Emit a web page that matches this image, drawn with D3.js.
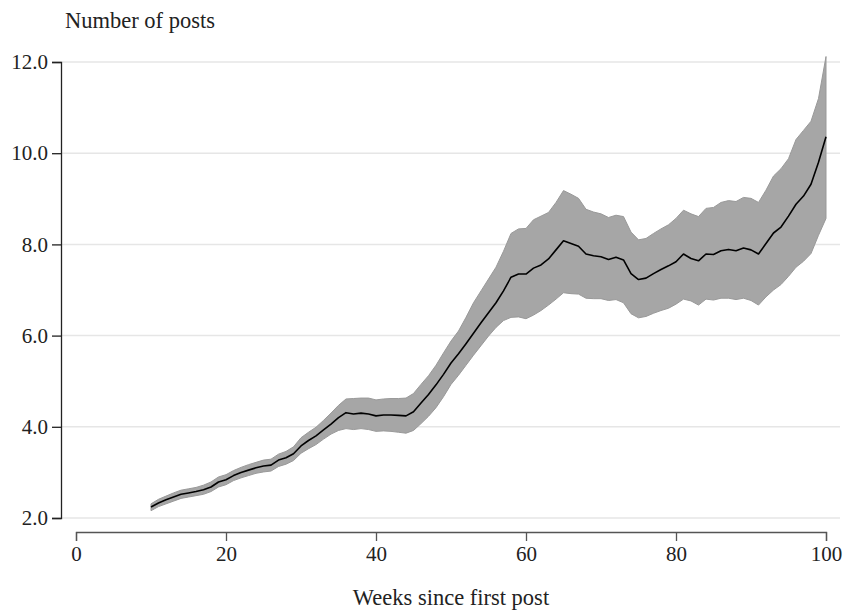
<!DOCTYPE html>
<html lang="en">
<head>
    <meta charset="UTF-8">
    <title>Number of posts by week</title>
    <script src="https://d3js.org/d3.v7.min.js"></script>
    <style>
        body { margin: 0; background: #fff; }
        svg text { font-family: "Liberation Serif", "DejaVu Serif", serif; fill: #222; }
    </style>
</head>
<body>
    <div id="chart"></div>
    <script>
        // Weeks since first post (10..100)
        const weeks = d3.range(10, 101);
        // Mean number of posts
        const meanPosts = [
            2.24, 2.33, 2.40, 2.46, 2.52, 2.55, 2.58, 2.62, 2.68, 2.79,
            2.84, 2.93, 3.00, 3.05, 3.10, 3.14, 3.16, 3.27, 3.32, 3.41,
            3.58, 3.70, 3.80, 3.93, 4.06, 4.20, 4.31, 4.28, 4.30, 4.28,
            4.24, 4.26, 4.26, 4.25, 4.24, 4.33, 4.52, 4.71, 4.92, 5.15,
            5.40, 5.60, 5.82, 6.05, 6.28, 6.50, 6.72, 6.98, 7.28, 7.35,
            7.35, 7.48, 7.55, 7.68, 7.88, 8.08, 8.02, 7.96, 7.79, 7.75,
            7.73, 7.67, 7.72, 7.66, 7.36, 7.23, 7.26, 7.36, 7.45, 7.53,
            7.62, 7.79, 7.69, 7.64, 7.79, 7.78, 7.86, 7.89, 7.86, 7.92,
            7.88, 7.79, 8.02, 8.25, 8.38, 8.62, 8.88, 9.06, 9.32, 9.80,
            10.36
        ];
        // Lower bound of the band
        const lowerPosts = [
            2.16, 2.25, 2.31, 2.37, 2.43, 2.46, 2.49, 2.52, 2.58, 2.68,
            2.73, 2.82, 2.88, 2.93, 2.98, 3.01, 3.03, 3.13, 3.18, 3.26,
            3.42, 3.52, 3.61, 3.73, 3.84, 3.92, 3.96, 3.94, 3.96, 3.94,
            3.90, 3.91, 3.90, 3.88, 3.86, 3.92, 4.07, 4.23, 4.42, 4.66,
            4.93, 5.13, 5.35, 5.57, 5.78, 5.99, 6.18, 6.33, 6.40, 6.41,
            6.37, 6.45, 6.55, 6.67, 6.80, 6.94, 6.92, 6.91, 6.82, 6.81,
            6.81, 6.77, 6.79, 6.72, 6.48, 6.39, 6.42, 6.49, 6.55, 6.60,
            6.69, 6.80, 6.76, 6.67, 6.80, 6.78, 6.82, 6.82, 6.79, 6.82,
            6.77, 6.67, 6.85, 7.00, 7.12, 7.30, 7.50, 7.63, 7.80, 8.20,
            8.57
        ];
        // Upper bound of the band
        const upperPosts = [
            2.31, 2.41, 2.48, 2.55, 2.61, 2.64, 2.67, 2.72, 2.79, 2.90,
            2.95, 3.04, 3.11, 3.17, 3.22, 3.27, 3.29, 3.40, 3.46, 3.56,
            3.76, 3.88, 3.99, 4.14, 4.30, 4.47, 4.61, 4.62, 4.63, 4.63,
            4.59, 4.61, 4.62, 4.62, 4.63, 4.73, 4.93, 5.12, 5.35, 5.62,
            5.88, 6.10, 6.40, 6.72, 6.98, 7.24, 7.50, 7.85, 8.24, 8.34,
            8.35, 8.54, 8.62, 8.70, 8.92, 9.18, 9.10, 9.01, 8.77, 8.71,
            8.67, 8.59, 8.64, 8.61, 8.27, 8.10, 8.13, 8.24, 8.34, 8.43,
            8.57, 8.75, 8.67, 8.61, 8.79, 8.81, 8.92, 8.96, 8.94, 9.03,
            9.01, 8.92, 9.19, 9.50, 9.66, 9.88, 10.30, 10.50, 10.70, 11.20,
            12.12
        ];
        const xTicks = [0, 20, 40, 60, 80, 100];
        const yTicks = [2, 4, 6, 8, 10, 12];

        const data = weeks.map((w, i) => ({
            week: w, mean: meanPosts[i], lo: lowerPosts[i], hi: upperPosts[i]
        }));

        const width = 845, height = 613;
        const svg = d3.select("#chart").append("svg")
            .attr("width", width)
            .attr("height", height);

        const x = d3.scaleLinear().domain([0, 100]).range([76, 826]);
        const y = d3.scaleLinear().domain([2, 12]).range([518, 62]);

        // Gridlines
        svg.append("g")
            .selectAll("line")
            .data(yTicks)
            .join("line")
            .attr("x1", 61)
            .attr("x2", 840)
            .attr("y1", d => y(d))
            .attr("y2", d => y(d))
            .attr("stroke", "#e6e6e6")
            .attr("stroke-width", 1.5);

        // Band
        const area = d3.area()
            .x(d => x(d.week))
            .y0(d => y(d.lo))
            .y1(d => y(d.hi));
        svg.append("path")
            .datum(data)
            .attr("fill", "#a6a6a6")
            .attr("stroke", "#999")
            .attr("stroke-width", 1)
            .attr("d", area);

        // Mean line
        const line = d3.line()
            .x(d => x(d.week))
            .y(d => y(d.mean));
        svg.append("path")
            .datum(data)
            .attr("fill", "none")
            .attr("stroke", "#000")
            .attr("stroke-width", 1.6)
            .attr("stroke-linejoin", "round")
            .attr("d", line);

        // Y axis
        const yAxis = svg.append("g")
            .attr("transform", "translate(61,0)")
            .call(d3.axisLeft(y).tickValues(yTicks).tickFormat(d3.format(".1f")).tickSize(9).tickPadding(4));
        yAxis.select(".domain").attr("stroke", "#222").attr("stroke-width", 1.3);
        yAxis.selectAll(".tick line").attr("stroke", "#222").attr("stroke-width", 1.3);
        yAxis.selectAll("text").attr("font-size", "21px").attr("fill", "#222")
            .attr("font-family", "Liberation Serif, serif");

        // X axis
        const xAxis = svg.append("g")
            .attr("transform", "translate(0,532)")
            .call(d3.axisBottom(x).tickValues(xTicks).tickSize(9).tickPadding(5));
        xAxis.select(".domain").attr("stroke", "#555").attr("stroke-width", 1.3);
        xAxis.selectAll(".tick line").attr("stroke", "#555").attr("stroke-width", 1.3);
        xAxis.selectAll("text").attr("font-size", "21px").attr("fill", "#222")
            .attr("font-family", "Liberation Serif, serif");

        // Axis titles
        svg.append("text")
            .attr("x", 65)
            .attr("y", 28)
            .attr("font-size", "22.5px")
            .text("Number of posts");

        svg.append("text")
            .attr("x", 451)
            .attr("y", 605)
            .attr("text-anchor", "middle")
            .attr("font-size", "22.5px")
            .text("Weeks since first post");
    </script>
</body>
</html>
